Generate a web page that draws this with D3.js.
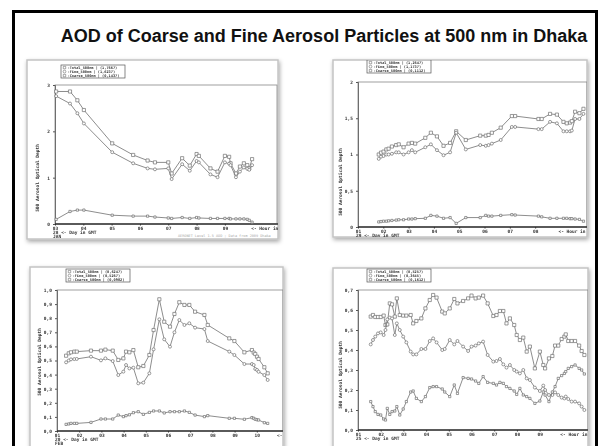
<!DOCTYPE html>
<html>
<head>
<meta charset="utf-8">
<script src="https://cdn.jsdelivr.net/npm/d3@7"></script>
<style>
  body { margin: 0; background: #fff; }
  svg { display: block; }
</style>
</head>
<body>
<svg id="slide" width="602" height="446"></svg>
<script>
var title = "AOD of Coarse and Fine Aerosol Particles at 500 nm in Dhaka";
var seriesNames = ["Total_500nm", "Fine_500nm", "Coarse_500nm"];

// panel 1 (top left) - January
var p1Hours = [3.04, 3.53, 3.79, 4.02, 5.02, 5.76, 6.27, 6.53, 7.0, 7.12, 7.49, 7.76, 8.0, 8.08, 8.49, 8.74, 9.0, 9.15, 9.2, 9.39, 9.53, 9.67, 9.79, 9.86, 9.96];
var p1Total = [2.86, 2.86, 2.67, 2.46, 1.74, 1.49, 1.37, 1.33, 1.33, 1.09, 1.42, 1.26, 1.51, 1.47, 1.20, 1.13, 1.47, 1.45, 1.31, 1.09, 1.24, 1.31, 1.27, 1.20, 1.40];
var p1Fine = [2.76, 2.60, 2.39, 2.17, 1.55, 1.31, 1.20, 1.18, 1.20, 0.97, 1.29, 1.15, 1.36, 1.33, 1.07, 1.01, 1.33, 1.30, 1.27, 1.01, 1.13, 1.22, 1.19, 1.17, 1.27];
var p1Coarse = [0.10, 0.27, 0.30, 0.30, 0.19, 0.17, 0.17, 0.15, 0.13, 0.12, 0.14, 0.12, 0.14, 0.13, 0.12, 0.12, 0.12, 0.12, 0.11, 0.11, 0.11, 0.11, 0.10, 0.08, 0.04];
var p1YTicks = [0, 1, 2, 3];
var p1YLabels = ["0", "1", "2", "3"];
var p1XTicks = [3, 4, 5, 6, 7, 8, 9];
var p1XLabels = ["03", "04", "05", "06", "07", "08", "09"];
var p1Legend = ["1,7667", "1,6237", "0,1437"];

// panel 2 (top right)
var p2Hours = [1.82, 1.91, 2.01, 2.12, 2.21, 2.34, 2.51, 2.61, 2.80, 3.0, 3.13, 3.26, 3.66, 3.88, 4.12, 4.38, 4.64, 4.88, 5.26, 5.83, 6.05, 6.16, 6.29, 6.64, 7.08, 7.21, 8.13, 8.26, 8.59, 8.86, 9.12, 9.25, 9.38, 9.45, 9.58, 9.75, 9.91];
var p2Total = [1.0, 1.025, 1.04, 1.07, 1.08, 1.11, 1.13, 1.14, 1.10, 1.15, 1.16, 1.15, 1.23, 1.30, 1.25, 1.12, 1.16, 1.32, 1.20, 1.26, 1.26, 1.27, 1.30, 1.37, 1.53, 1.53, 1.49, 1.49, 1.56, 1.55, 1.45, 1.43, 1.44, 1.46, 1.59, 1.57, 1.63];
var p2Fine = [0.94, 0.97, 0.98, 1.0, 1.0, 1.01, 1.03, 1.03, 1.0, 1.03, 1.06, 1.03, 1.10, 1.14, 1.06, 0.99, 1.03, 1.30, 1.07, 1.13, 1.12, 1.13, 1.15, 1.20, 1.38, 1.38, 1.35, 1.35, 1.45, 1.43, 1.32, 1.32, 1.32, 1.33, 1.49, 1.49, 1.56];
var p2Coarse = [0.07, 0.075, 0.08, 0.08, 0.085, 0.09, 0.095, 0.10, 0.10, 0.11, 0.11, 0.115, 0.12, 0.16, 0.15, 0.12, 0.13, 0.05, 0.13, 0.13, 0.16, 0.15, 0.15, 0.16, 0.17, 0.165, 0.15, 0.14, 0.12, 0.12, 0.12, 0.12, 0.115, 0.115, 0.11, 0.105, 0.08];
var p2YTicks = [0, 0.5, 1, 1.5, 2];
var p2YLabels = ["0", "0,5", "1", "1,5", "2"];
var p2XTicks = [1, 2, 3, 4, 5, 6, 7, 8];
var p2XLabels = ["01", "02", "03", "04", "05", "06", "07", "08"];
var p2Legend = ["1,2647", "1,1737", "0,1112"];

// panel 3 (bottom left) - February
var p3Hours = [1.41, 1.53, 1.63, 1.78, 1.89, 2.53, 2.98, 3.18, 3.51, 3.76, 3.99, 4.11, 4.26, 4.44, 4.66, 4.89, 5.16, 5.35, 5.61, 5.83, 6.09, 6.29, 6.51, 6.74, 6.96, 7.22, 7.64, 7.79, 8.76, 8.99, 9.44, 9.78, 9.86, 9.93, 10.01, 10.08, 10.34, 10.49];
var p3Total = [0.534, 0.551, 0.558, 0.563, 0.563, 0.570, 0.570, 0.577, 0.570, 0.504, 0.515, 0.563, 0.558, 0.574, 0.452, 0.461, 0.539, 0.716, 0.934, 0.775, 0.740, 0.830, 0.913, 0.894, 0.894, 0.846, 0.823, 0.752, 0.657, 0.638, 0.558, 0.574, 0.556, 0.546, 0.527, 0.511, 0.452, 0.409];
var p3Fine = [0.487, 0.500, 0.508, 0.510, 0.511, 0.527, 0.501, 0.515, 0.496, 0.397, 0.421, 0.468, 0.444, 0.449, 0.338, 0.343, 0.409, 0.579, 0.792, 0.650, 0.598, 0.700, 0.787, 0.752, 0.764, 0.733, 0.723, 0.638, 0.563, 0.539, 0.475, 0.475, 0.468, 0.440, 0.433, 0.420, 0.397, 0.362];
var p3Coarse = [0.047, 0.050, 0.054, 0.054, 0.054, 0.061, 0.085, 0.085, 0.085, 0.113, 0.102, 0.109, 0.115, 0.130, 0.137, 0.118, 0.132, 0.142, 0.142, 0.128, 0.137, 0.137, 0.137, 0.142, 0.132, 0.113, 0.102, 0.109, 0.090, 0.090, 0.083, 0.095, 0.090, 0.083, 0.080, 0.078, 0.059, 0.054];
var p3YTicks = [0, 0.1, 0.2, 0.3, 0.4, 0.5, 0.6, 0.7, 0.8, 0.9, 1.0];
var p3YLabels = ["0,0", "0,1", "0,2", "0,3", "0,4", "0,5", "0,6", "0,7", "0,8", "0,9", "1,0"];
var p3XTicks = [1, 2, 3, 4, 5, 6, 7, 8, 9, 10];
var p3XLabels = ["01", "02", "03", "04", "05", "06", "07", "08", "09", "10"];
var p3Legend = ["0,6247", "0,5267", "0,0982"];

// panel 4 (bottom right)
var p4Hours = [1.56, 1.66, 1.76, 1.88, 2.0, 2.13, 2.21, 2.29, 2.40, 2.50, 2.62, 2.71, 2.84, 2.99, 3.13, 3.32, 3.43, 3.57, 3.79, 3.97, 4.16, 4.31, 4.46, 4.71, 4.82, 5.04, 5.24, 5.38, 5.63, 5.85, 6.0, 6.18, 6.32, 6.51, 6.71, 6.96, 7.10, 7.25, 7.40, 7.54, 7.69, 7.88, 7.99, 8.13, 8.28, 8.43, 8.57, 8.79, 9.01, 9.16, 9.24, 9.41, 9.56, 9.68, 9.82, 9.97, 10.09, 10.15, 10.26, 10.41, 10.56, 10.74, 10.85, 10.97];
var p4Total = [0.567, 0.575, 0.565, 0.565, 0.565, 0.572, 0.525, 0.528, 0.633, 0.628, 0.567, 0.658, 0.575, 0.572, 0.572, 0.575, 0.533, 0.545, 0.558, 0.608, 0.650, 0.675, 0.662, 0.592, 0.583, 0.608, 0.655, 0.633, 0.645, 0.658, 0.672, 0.658, 0.662, 0.672, 0.633, 0.570, 0.575, 0.595, 0.595, 0.533, 0.558, 0.525, 0.475, 0.450, 0.462, 0.392, 0.417, 0.308, 0.392, 0.325, 0.308, 0.358, 0.370, 0.422, 0.422, 0.455, 0.467, 0.478, 0.445, 0.445, 0.445, 0.422, 0.395, 0.375];
var p4Fine = [0.428, 0.450, 0.467, 0.483, 0.488, 0.475, 0.500, 0.553, 0.562, 0.558, 0.475, 0.533, 0.500, 0.467, 0.438, 0.392, 0.378, 0.378, 0.405, 0.405, 0.445, 0.458, 0.438, 0.400, 0.405, 0.450, 0.428, 0.445, 0.417, 0.395, 0.417, 0.422, 0.433, 0.442, 0.375, 0.342, 0.345, 0.355, 0.328, 0.312, 0.325, 0.300, 0.292, 0.283, 0.300, 0.258, 0.250, 0.212, 0.195, 0.222, 0.200, 0.175, 0.175, 0.188, 0.175, 0.162, 0.158, 0.167, 0.155, 0.142, 0.142, 0.133, 0.117, 0.100];
var p4Coarse = [0.142, 0.117, 0.092, 0.078, 0.075, 0.055, 0.050, 0.108, 0.078, 0.092, 0.095, 0.117, 0.075, 0.105, 0.142, 0.190, 0.195, 0.158, 0.142, 0.167, 0.212, 0.217, 0.217, 0.205, 0.190, 0.167, 0.225, 0.183, 0.262, 0.258, 0.255, 0.245, 0.233, 0.267, 0.238, 0.233, 0.225, 0.238, 0.233, 0.217, 0.208, 0.195, 0.178, 0.208, 0.175, 0.167, 0.158, 0.133, 0.145, 0.190, 0.175, 0.142, 0.190, 0.217, 0.258, 0.272, 0.283, 0.292, 0.308, 0.317, 0.325, 0.308, 0.300, 0.280];
var p4YTicks = [0, 0.1, 0.2, 0.3, 0.4, 0.5, 0.6, 0.7];
var p4YLabels = ["0,0", "0,1", "0,2", "0,3", "0,4", "0,5", "0,6", "0,7"];
var p4XTicks = [1, 2, 3, 4, 5, 6, 7, 8, 9];
var p4XLabels = ["01", "02", "03", "04", "05", "06", "07", "08", "09"];
var p4Legend = ["0,5257", "0,3645", "0,1612"];

var panels = [
    {hours: p1Hours, series: [p1Total, p1Fine, p1Coarse], yTicks: p1YTicks, yLabels: p1YLabels, xTicks: p1XTicks, xLabels: p1XLabels, legend: p1Legend,
     frame: [27, 60, 251, 179], plot: [55, 85, 277, 224], xDomain: [3, 10.84], yMax: 3, day: "28", month: "JAN", yTitleY: 178, legendXY: [61, 65]},
    {hours: p2Hours, series: [p2Total, p2Fine, p2Coarse], yTicks: p2YTicks, yLabels: p2YLabels, xTicks: p2XTicks, xLabels: p2XLabels, legend: p2Legend,
     frame: [333, 60, 254, 177], plot: [358, 82, 587, 227], xDomain: [1, 10.05], yMax: 2, day: "29", month: "", yTitleY: 182, legendXY: [367, 60]},
    {hours: p3Hours, series: [p3Total, p3Fine, p3Coarse], yTicks: p3YTicks, yLabels: p3YLabels, xTicks: p3XTicks, xLabels: p3XLabels, legend: p3Legend,
     frame: [30, 267, 253, 190], plot: [57, 290, 283, 431], xDomain: [1, 11.18], yMax: 1, day: "20", month: "FEB", yTitleY: 362, legendXY: [66, 269]},
    {hours: p4Hours, series: [p4Total, p4Fine, p4Coarse], yTicks: p4YTicks, yLabels: p4YLabels, xTicks: p4XTicks, xLabels: p4XLabels, legend: p4Legend,
     frame: [333, 268, 255, 190], plot: [358, 290, 588, 430], xDomain: [1, 11.13], yMax: 0.7, day: "25", month: "", yTitleY: 375, legendXY: [367, 269]}
];

var svg = d3.select("#slide");
var defs = svg.append("defs");

var shadow = defs.append("filter").attr("id", "shadow")
    .attr("x", "-10%").attr("y", "-10%").attr("width", "125%").attr("height", "125%");
shadow.append("feDropShadow")
    .attr("dx", 1).attr("dy", 2).attr("stdDeviation", 2)
    .attr("flood-color", "#000").attr("flood-opacity", 0.35);

defs.append("filter").attr("id", "soft")
    .append("feGaussianBlur").attr("stdDeviation", 0.4);

// slide frame
svg.append("rect")
    .attr("x", 13.5).attr("y", 11.5)
    .attr("width", 583).attr("height", 480)
    .attr("fill", "none").attr("stroke", "#000").attr("stroke-width", 3);

svg.append("text")
    .attr("x", 324).attr("y", 42)
    .attr("text-anchor", "middle")
    .style("font", "bold 18px 'Liberation Sans', Arial, sans-serif")
    .attr("fill", "#111")
    .text(title);

var symbols = [d3.symbolSquare, d3.symbolCircle, d3.symbolSquare];
var symbolSizes = [10, 7, 5];
var mono = "'DejaVu Sans Mono', monospace";

panels.forEach(function (p, i) {
    var f = p.frame;
    defs.append("clipPath").attr("id", "clip" + i)
        .append("rect").attr("x", f[0]).attr("y", f[1]).attr("width", f[2]).attr("height", f[3]);

    svg.append("rect")
        .attr("x", f[0]).attr("y", f[1]).attr("width", f[2]).attr("height", f[3])
        .attr("fill", "#fff").attr("stroke", "#c4c4c4").attr("stroke-width", 1.5)
        .attr("filter", "url(#shadow)");

    var g = svg.append("g").attr("clip-path", "url(#clip" + i + ")")
        .append("g").attr("filter", "url(#soft)");

    var x = d3.scaleLinear().domain(p.xDomain).range([p.plot[0], p.plot[2]]);
    var y = d3.scaleLinear().domain([0, p.yMax]).range([p.plot[3], p.plot[1]]);

    // plot box
    g.append("rect")
        .attr("x", p.plot[0]).attr("y", p.plot[1])
        .attr("width", p.plot[2] - p.plot[0]).attr("height", p.plot[3] - p.plot[1])
        .attr("fill", "none").attr("stroke", "#888").attr("stroke-width", 0.8);

    var yAxis = g.append("g")
        .attr("transform", "translate(" + p.plot[0] + ",0)")
        .call(d3.axisLeft(y).tickValues(p.yTicks)
            .tickFormat(function (d, j) { return p.yLabels[j]; })
            .tickSize(2).tickPadding(3));
    yAxis.select(".domain").attr("stroke", "#555").attr("stroke-width", 0.8);
    yAxis.selectAll("line").attr("stroke", "#555");
    yAxis.selectAll("text").style("font", "bold 4.5px " + mono).attr("fill", "#333");

    var xAxis = g.append("g")
        .attr("transform", "translate(0," + p.plot[3] + ")")
        .call(d3.axisBottom(x).tickValues(p.xTicks)
            .tickFormat(function (d, j) { return p.xLabels[j]; })
            .tickSize(1.5).tickPadding(1));
    xAxis.select(".domain").attr("stroke", "#333").attr("stroke-width", 1.3)
        .attr("d", "M" + p.plot[0] + ",0H" + (f[0] + f[2] + 5));
    xAxis.selectAll("line").attr("stroke", "#333");
    xAxis.selectAll("text").style("font", "bold 4.5px " + mono).attr("fill", "#333");

    var last = p.xTicks[p.xTicks.length - 1] + 1;
    g.append("text")
        .attr("x", x(last) - 2).attr("y", p.plot[3] + 5.5)
        .style("font", "bold 4.5px " + mono).attr("fill", "#333")
        .text("<- Hour in UT");

    g.append("text")
        .attr("x", p.plot[0] - 2).attr("y", p.plot[3] + 9.5)
        .style("font", "bold 4.5px " + mono).attr("fill", "#333")
        .text(p.day + "  <- Day in GMT");
    if (p.month) {
        g.append("text")
            .attr("x", p.plot[0] - 2).attr("y", p.plot[3] + 13.5)
            .style("font", "bold 4.5px " + mono).attr("fill", "#333")
            .text(p.month);
    }

    g.append("text")
        .attr("transform", "translate(" + (p.plot[0] - 16) + "," + p.yTitleY + ") rotate(-90)")
        .attr("text-anchor", "middle")
        .style("font", "bold 4.5px " + mono).attr("fill", "#333")
        .text("500 Aerosol Optical Depth");

    // series
    var line = d3.line()
        .x(function (d) { return x(d[0]); })
        .y(function (d) { return y(d[1]); });

    p.series.forEach(function (vals, k) {
        var pts = p.hours.map(function (h, j) { return [h, vals[j]]; });
        g.append("path").datum(pts)
            .attr("d", line)
            .attr("fill", "none").attr("stroke", "#808080").attr("stroke-width", 0.9);
        g.selectAll(".m" + k).data(pts).enter().append("path")
            .attr("class", "m" + k)
            .attr("transform", function (d) { return "translate(" + x(d[0]) + "," + y(d[1]) + ")"; })
            .attr("d", d3.symbol().type(symbols[k]).size(symbolSizes[k]))
            .attr("fill", "#fff").attr("stroke", "#707070").attr("stroke-width", 0.7);
    });

    // legend box
    var lg = g.append("g").attr("transform", "translate(" + p.legendXY[0] + "," + p.legendXY[1] + ")");
    lg.append("rect").attr("width", 64).attr("height", 13)
        .attr("fill", "#fff").attr("stroke", "#555").attr("stroke-width", 0.7);
    seriesNames.forEach(function (name, k) {
        var row = lg.append("g").attr("transform", "translate(0," + (2.6 + k * 4) + ")");
        row.append("path")
            .attr("transform", "translate(3.5,0)")
            .attr("d", d3.symbol().type(symbols[k]).size(6))
            .attr("fill", "#fff").attr("stroke", "#555").attr("stroke-width", 0.5);
        row.append("text")
            .attr("x", 6.5).attr("y", 1.4)
            .style("font", "bold 3.6px " + mono).attr("fill", "#333")
            .text("-" + name + "  | (" + p.legend[k] + ")");
    });
});

// faint footer text under the first panel
svg.append("text")
    .attr("x", 178).attr("y", 236.5)
    .style("font", "3.5px " + mono).attr("fill", "#aaa")
    .text("AERONET Level 1.5 AOD ; Data from 2009 Dhaka");
</script>
</body>
</html>
